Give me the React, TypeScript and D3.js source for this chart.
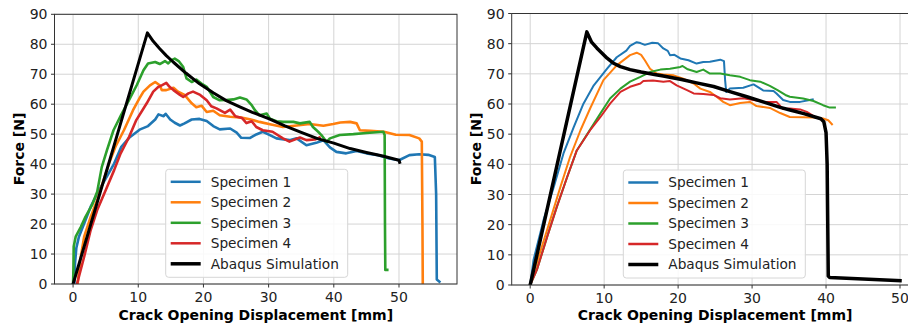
import React, { useRef, useEffect } from 'react';
import * as d3 from 'd3';

type Pt = [number, number];

// ---- left test ----
const leftSpecimen1: Pt[] = [[0.2,0],[0.3,7],[0.5,12],[0.9,15.8],[1.7,20.2],[2.7,25.8],[4,31.3],[5,35.2],[6.3,40.2],[7.4,45.8],[8.7,49],[10.2,51.5],[11.5,52.7],[12.6,54.9],[13.1,56.6],[13.9,56],[14.2,56.8],[14.9,54.9],[15.6,53.8],[16.4,52.9],[17.1,53.6],[18.2,54.9],[19.4,55.1],[20.5,54.4],[21.5,52.7],[22.5,51.6],[24.1,51.9],[25.1,50.5],[25.8,48.8],[27.1,48.7],[28.1,49.9],[29.1,50.8],[30.2,49.7],[31.2,48.6],[33.2,48],[34.3,48.6],[35.8,46.3],[37.3,47.1],[38.4,48],[39.4,45.6],[40.4,44.1],[41.9,43.6],[43.5,44.4],[45,43.6],[46.8,43],[48.5,41.9],[50,41.3],[51.6,43],[53.1,43.3],[54.5,43.1],[55.5,42.4],[55.7,30],[55.8,1.5],[56.2,0.8]];
const leftSpecimen2: Pt[] = [[0.7,0],[0.9,4],[1.1,8],[1.7,15.8],[2.7,22.4],[3.7,28],[4.7,34.7],[5.5,40.2],[6.5,45.8],[7.8,51.3],[9.2,58],[10.2,62],[10.8,64.2],[11.8,66.3],[12.6,67.4],[13.3,66.3],[13.6,64.7],[14.3,64.7],[15.4,65.5],[16.1,64.2],[17.1,63.1],[18.2,60.3],[18.9,59],[19.7,59.5],[20.5,57.4],[21.5,57.8],[22.5,56.3],[24.1,55.8],[25.6,55.6],[27.1,55],[28.6,54.1],[30.2,53.3],[32.2,52.4],[34.3,52.9],[36.3,53.4],[38.4,52.8],[39.9,53.4],[41,53.9],[42.5,54.1],[43.5,53.6],[44,51.3],[45.6,51.1],[47.7,50.8],[49.5,49.8],[51.6,49.7],[53.1,48.6],[53.5,47.5],[53.6,20],[53.65,0]];
const leftSpecimen3: Pt[] = [[0,0],[0.05,5],[0.1,12.5],[0.4,15.8],[1.2,19.1],[1.9,22.4],[2.9,26.3],[3.7,30.8],[4.4,39],[5.2,44.7],[6.2,51.3],[7.4,56.5],[8.5,61],[9.8,66.5],[10.8,71.3],[11.5,73.6],[12.6,74.1],[13.3,73.4],[14.1,74.4],[14.6,73.6],[15.1,74.7],[15.6,75.2],[16.2,74.4],[16.9,72.4],[17.4,68.6],[18.2,67.4],[18.9,68.2],[19.7,66.9],[20.5,65.8],[21.5,62.4],[22.5,61.3],[23.5,61.4],[24.6,61.6],[25.6,62.2],[26.6,61.6],[27.4,59.7],[27.9,58],[28.6,56.3],[29.7,56.9],[30.2,55.2],[31.2,54.3],[32.2,54.1],[33.8,54.1],[34.8,53.6],[36.3,54.1],[36.8,52.4],[37.6,50.8],[38.1,49.7],[38.9,47.4],[39.4,48.6],[40.9,49.7],[43,50],[45,50.4],[47.6,50.8],[47.8,49.7],[47.85,20],[47.9,4.7],[48.2,4.7]];
const leftSpecimen4: Pt[] = [[0.6,0],[1.7,9.1],[2.7,18],[3.7,24.7],[5,31.3],[6.3,38],[7.3,43.6],[8.6,49.1],[9.7,54.7],[11.3,60.3],[12.3,64.2],[13.1,65.8],[13.6,66.3],[14.3,67.1],[14.8,65.8],[15.4,64.7],[16.4,63.1],[16.9,62.4],[17.7,63.6],[18.4,64.2],[19.5,63.1],[20.5,61.3],[21.2,59.3],[22,58.6],[23.3,57.1],[24.1,58.2],[24.9,56],[25.9,55.4],[26.6,53.7],[27.4,54.3],[28.1,52.4],[29.1,51.3],[30.6,50.8],[32.2,48.6],[33.2,47.5],[34.8,48.9],[35.8,48],[37.1,48.2],[37.8,48.9]];
const leftAbaqus: Pt[] = [[0,0],[11.4,83.8],[12.3,81],[13.3,78.5],[14.3,76.2],[15.4,74],[17.3,70.4],[19.4,66.8],[21.5,63.8],[23.5,61.2],[25.5,59.2],[27.5,57.3],[30,55.2],[32.5,52.8],[35,50.6],[37.5,48.5],[40,47],[42.5,45.2],[45,43.9],[47.5,42.7],[50,41.3],[50.1,40.6]];

// ---- right test ----
const rightSpecimen1: Pt[] = [[0,0],[0.45,8.3],[1.8,21.5],[3.2,32.6],[4.5,43.6],[5.9,52.4],[7.2,60.1],[8.6,66.2],[10.4,71.7],[11.7,75.5],[13,77.7],[13.5,79.3],[14.4,80.5],[14.9,80.2],[15.5,79.6],[16.5,80.3],[17.3,80.1],[18,78.4],[18.6,77.6],[18.9,76.2],[19.5,76.3],[20.3,75.1],[21.4,74.5],[22.5,73.4],[23.4,73.9],[24.3,74],[25.7,74.7],[26.2,74.2],[26.35,68],[26.5,64],[27,65.1],[28.8,65.4],[30.2,66.5],[31.5,64.5],[32.9,64.3],[33.3,63.5],[34.2,61.3],[35.1,60.7],[36.5,60.7],[37.8,61.3],[38.2,61.5]];
const rightSpecimen2: Pt[] = [[0,0],[1.3,10.5],[2.7,21.5],[4.1,32.6],[5.4,42.5],[6.8,51.3],[8.1,58.5],[9.9,67.9],[11.7,72.8],[13.5,76.2],[14.4,77],[15,76.3],[15.5,74.5],[16.2,71.7],[17.1,70.1],[18,69.8],[19.4,69.5],[20.7,68.4],[22.1,66.8],[23,65.1],[24.3,64],[25.2,62.4],[26.1,60.7],[27,59.6],[28.4,60.3],[29.7,60.7],[30.6,59.3],[32.4,58.7],[33.8,57],[35.1,55.7],[36.9,55.6],[38.3,55.5],[39.6,55.2],[40.3,54.6],[40.8,53.3]];
const rightSpecimen3: Pt[] = [[0,0],[0.9,5],[2.3,16],[3.6,25.9],[5,35.8],[6.3,44.6],[8.1,51.5],[9.5,56.9],[10.8,61.8],[12.2,65.1],[13.5,67.4],[14.9,69],[16.2,70.6],[17.6,71.4],[18.9,71.7],[20.3,72.3],[20.6,72.6],[21.3,71.5],[22.5,70.6],[23.4,71.4],[24.3,70.1],[25.7,70.1],[27,69.5],[28.4,69],[29.7,67.9],[31.1,67.4],[32.4,66],[33.5,64.5],[34.5,63],[35.1,62.4],[36.9,61.8],[38.3,61],[39.6,59.6],[40.5,58.8],[41.2,58.8]];
const rightSpecimen4: Pt[] = [[0,0],[0.9,5],[2.3,16],[3.6,25.9],[5,35.8],[6.3,44.6],[8.1,51.3],[9.5,55.7],[10.8,60.1],[12.2,64],[13.5,65.7],[14.9,66.8],[15.3,67.6],[16.6,67.8],[18,67.4],[18.9,67.6],[19.8,66.2],[21.2,64.6],[22.1,63.5],[23.4,63.3],[24.8,63],[25.7,61.9],[27,61.5],[28.8,61.9],[30.2,61.3],[31.5,60.7],[33.3,60.7],[34.2,58.3],[35.1,58.5],[36.5,58.2],[37.4,57.4],[38.1,56.3]];
const rightAbaqus: Pt[] = [[0,0],[7.66,83.9],[8.3,80.5],[9,78.6],[10.4,75.2],[11.2,73.6],[12.2,72.4],[13.5,71.4],[15,70.6],[16.8,69.8],[18,69.3],[20.3,68.2],[22.5,67],[24.8,65.8],[27,64.1],[29.3,62.4],[31.5,60.7],[33.8,58.9],[35,58.1],[37,56.8],[39.3,55.1],[39.7,54.1],[40,50.5],[40.15,40],[40.3,3],[40.5,2.5],[45,2],[50,1.4]];

const seriesNames = ['Specimen 1', 'Specimen 2', 'Specimen 3', 'Specimen 4', 'Abaqus Simulation'];
const seriesColors = ['#1f77b4', '#ff7f0e', '#2ca02c', '#d62728', '#000000'];
const xTicks = [0, 10, 20, 30, 40, 50];
const yTicks = [0, 10, 20, 30, 40, 50, 60, 70, 80, 90];

interface PanelProps {
  series: Pt[][];
  left: number;
  right: number;
  top: number;
  bottom: number;
  xDomain: [number, number];
  lineWidth: number;
  abaqusWidth: number;
  legendX: number;
  legendY: number;
  id: string;
}

const FONT = '"DejaVu Sans", sans-serif';

const Panel: React.FC<PanelProps> = (p) => {
  const gRef = useRef<SVGGElement>(null);

  useEffect(() => {
    if (!gRef.current) return;
    const g = d3.select(gRef.current);
    g.selectAll('*').remove();

    const x = d3.scaleLinear().domain(p.xDomain).range([p.left, p.right]);
    const y = d3.scaleLinear().domain([0, 90]).range([p.bottom, p.top]);

    g.append('defs').append('clipPath').attr('id', `clip-${p.id}`)
      .append('rect')
      .attr('x', p.left).attr('y', p.top)
      .attr('width', p.right - p.left).attr('height', p.bottom - p.top);

    // grid
    g.selectAll('.gx').data(xTicks).enter().append('line')
      .attr('x1', d => x(d)).attr('x2', d => x(d))
      .attr('y1', p.top).attr('y2', p.bottom)
      .attr('stroke', '#d4d4d4').attr('stroke-width', 1);
    g.selectAll('.gy').data(yTicks).enter().append('line')
      .attr('x1', p.left).attr('x2', p.right)
      .attr('y1', d => y(d)).attr('y2', d => y(d))
      .attr('stroke', '#d4d4d4').attr('stroke-width', 1);

    // lines
    const line = d3.line<Pt>().x(d => x(d[0])).y(d => y(d[1]));
    const lines = g.append('g').attr('clip-path', `url(#clip-${p.id})`);
    p.series.forEach((s, i) => {
      lines.append('path')
        .attr('d', line(s))
        .attr('fill', 'none')
        .attr('stroke', seriesColors[i])
        .attr('stroke-width', i === 4 ? p.abaqusWidth : p.lineWidth)
        .attr('stroke-linejoin', 'round')
        .attr('stroke-linecap', 'square');
    });

    // spines
    g.append('rect')
      .attr('x', p.left).attr('y', p.top)
      .attr('width', p.right - p.left).attr('height', p.bottom - p.top)
      .attr('fill', 'none').attr('stroke', '#333').attr('stroke-width', 1);

    // ticks + labels
    g.selectAll('.tx').data(xTicks).enter().append('line')
      .attr('x1', d => x(d)).attr('x2', d => x(d))
      .attr('y1', p.bottom).attr('y2', p.bottom + 3.5)
      .attr('stroke', '#333');
    g.selectAll('.lx').data(xTicks).enter().append('text')
      .attr('x', d => x(d)).attr('y', p.bottom + 18)
      .attr('text-anchor', 'middle')
      .style('font-family', FONT).style('font-size', '14px').attr('fill', '#222')
      .text(d => d);
    g.selectAll('.ty').data(yTicks).enter().append('line')
      .attr('x1', p.left - 3.5).attr('x2', p.left)
      .attr('y1', d => y(d)).attr('y2', d => y(d))
      .attr('stroke', '#333');
    g.selectAll('.ly').data(yTicks).enter().append('text')
      .attr('x', p.left - 7).attr('y', d => y(d))
      .attr('dy', '0.36em')
      .attr('text-anchor', 'end')
      .style('font-family', FONT).style('font-size', '14px').attr('fill', '#222')
      .text(d => d);

    // axis titles
    g.append('text')
      .attr('x', (p.left + p.right) / 2).attr('y', 320)
      .attr('text-anchor', 'middle')
      .style('font-family', FONT).style('font-size', '14px').style('font-weight', 'bold')
      .text('Crack Opening Displacement [mm]');
    g.append('text')
      .attr('transform', `translate(${p.left - 31},149) rotate(-90)`)
      .attr('text-anchor', 'middle')
      .style('font-family', FONT).style('font-size', '14px').style('font-weight', 'bold')
      .text('Force [N]');

    // legend
    const lg = g.append('g').attr('transform', `translate(${p.legendX},${p.legendY})`);
    lg.append('rect')
      .attr('width', 182).attr('height', 108).attr('rx', 3)
      .attr('fill', 'white').attr('fill-opacity', 0.85)
      .attr('stroke', '#d6d6d6');
    seriesNames.forEach((name, i) => {
      const yy = 12.5 + i * 20.5;
      lg.append('line')
        .attr('x1', 5).attr('x2', 35).attr('y1', yy).attr('y2', yy)
        .attr('stroke', seriesColors[i])
        .attr('stroke-width', i === 4 ? 3.5 : 2.5);
      lg.append('text')
        .attr('x', 45).attr('y', yy).attr('dy', '0.36em')
        .style('font-family', FONT).style('font-size', '13.7px').attr('fill', '#222')
        .text(name);
    });
  }, [p]);

  return <g ref={gRef} />;
};

export default function App() {
  return (
    <svg width={908} height={329} style={{ position: 'absolute', left: 0, top: 0, background: 'white' }}>
      <rect width={908} height={329} fill="white" />
      <Panel
        id="a"
        series={[leftSpecimen1, leftSpecimen2, leftSpecimen3, leftSpecimen4, leftAbaqus]}
        left={54.5} right={457} top={14.3} bottom={284}
        xDomain={[-2.85, 58.9]}
        lineWidth={2.6} abaqusWidth={3}
        legendX={165.7} legendY={169.3}
      />
      <Panel
        id="b"
        series={[rightSpecimen1, rightSpecimen2, rightSpecimen3, rightSpecimen4, rightAbaqus]}
        left={511.7} right={918.5} top={13.5} bottom={285}
        xDomain={[-2.5, 52.5]}
        lineWidth={2} abaqusWidth={3.5}
        legendX={623.3} legendY={170}
      />
    </svg>
  );
}
